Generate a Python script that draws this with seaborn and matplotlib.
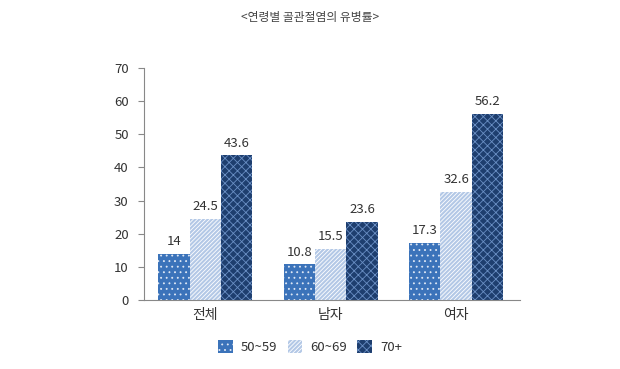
import numpy as np
import pandas as pd
import matplotlib

matplotlib.use('Agg')
import matplotlib.pyplot as plt
import seaborn as sns

groups = ['전체', '남자', '여자']
ages = ['50~59', '60~69', '70+']
v_50s = [14, 10.8, 17.3]
v_60s = [24.5, 15.5, 32.6]
v_70s = [43.6, 23.6, 56.2]
title = '<연령별 골관절염의 유병률>'

df = pd.DataFrame({
    'group': groups * 3,
    'age': [a for a in ages for _ in groups],
    'value': v_50s + v_60s + v_70s,
})

sns.set_style('white')
plt.rcParams['font.family'] = ['Noto Sans CJK KR', 'DejaVu Sans']
plt.rcParams['hatch.linewidth'] = 0.6

faces = ['#3b73ba', '#b3c8e6', '#1e3e6e']
hatch_colors = ['#dfe8f5', '#ffffff', '#6a8fc4']
hatches = ['...', '////////', 'xxxx']

fig = plt.figure(figsize=(6.2, 3.69), dpi=100)
ax = fig.add_axes([144 / 620, 1 - 300 / 369, 376 / 620, 232 / 369])

sns.barplot(data=df, x='group', y='value', hue='age', hue_order=ages,
            width=0.75, palette=faces, legend=False, ax=ax)

for i, cont in enumerate(ax.containers):
    for bar in cont.patches:
        bar.set_facecolor(faces[i])
        bar.set_edgecolor(hatch_colors[i])
        bar.set_hatch(hatches[i])
        bar.set_linewidth(0)
    labels = [f'{v:g}' for v in cont.datavalues]
    ax.bar_label(cont, labels=labels, padding=4, fontsize=9.5, color='#333333')

ax.set_ylim(0, 70)
ax.set_xlim(-0.49, 2.51)
ax.set_yticks(np.arange(0, 71, 10))
ax.set_xlabel('')
ax.set_ylabel('')
for side in ['top', 'right']:
    ax.spines[side].set_visible(False)
ax.spines['left'].set_color('#888888')
ax.spines['bottom'].set_color('#888888')
ax.tick_params(axis='y', length=4, color='#888888', labelsize=9.5,
               labelcolor='#333333', pad=7, left=True)
ax.tick_params(axis='x', length=0, labelsize=10, labelcolor='#333333', pad=6)

handles = [cont.patches[0] for cont in ax.containers]
fig.legend(handles, ages, loc='center', bbox_to_anchor=(310 / 620, 1 - 347 / 369),
           ncol=3, frameon=False, fontsize=9.5, handlelength=1.1, handleheight=1.1,
           columnspacing=0.8, handletextpad=0.6, labelcolor='#333333')

fig.text(0.5, 1 - 18 / 369, title, ha='center', va='center', fontsize=8.5, color='#444444')

fig.savefig('out.png', dpi=100)
